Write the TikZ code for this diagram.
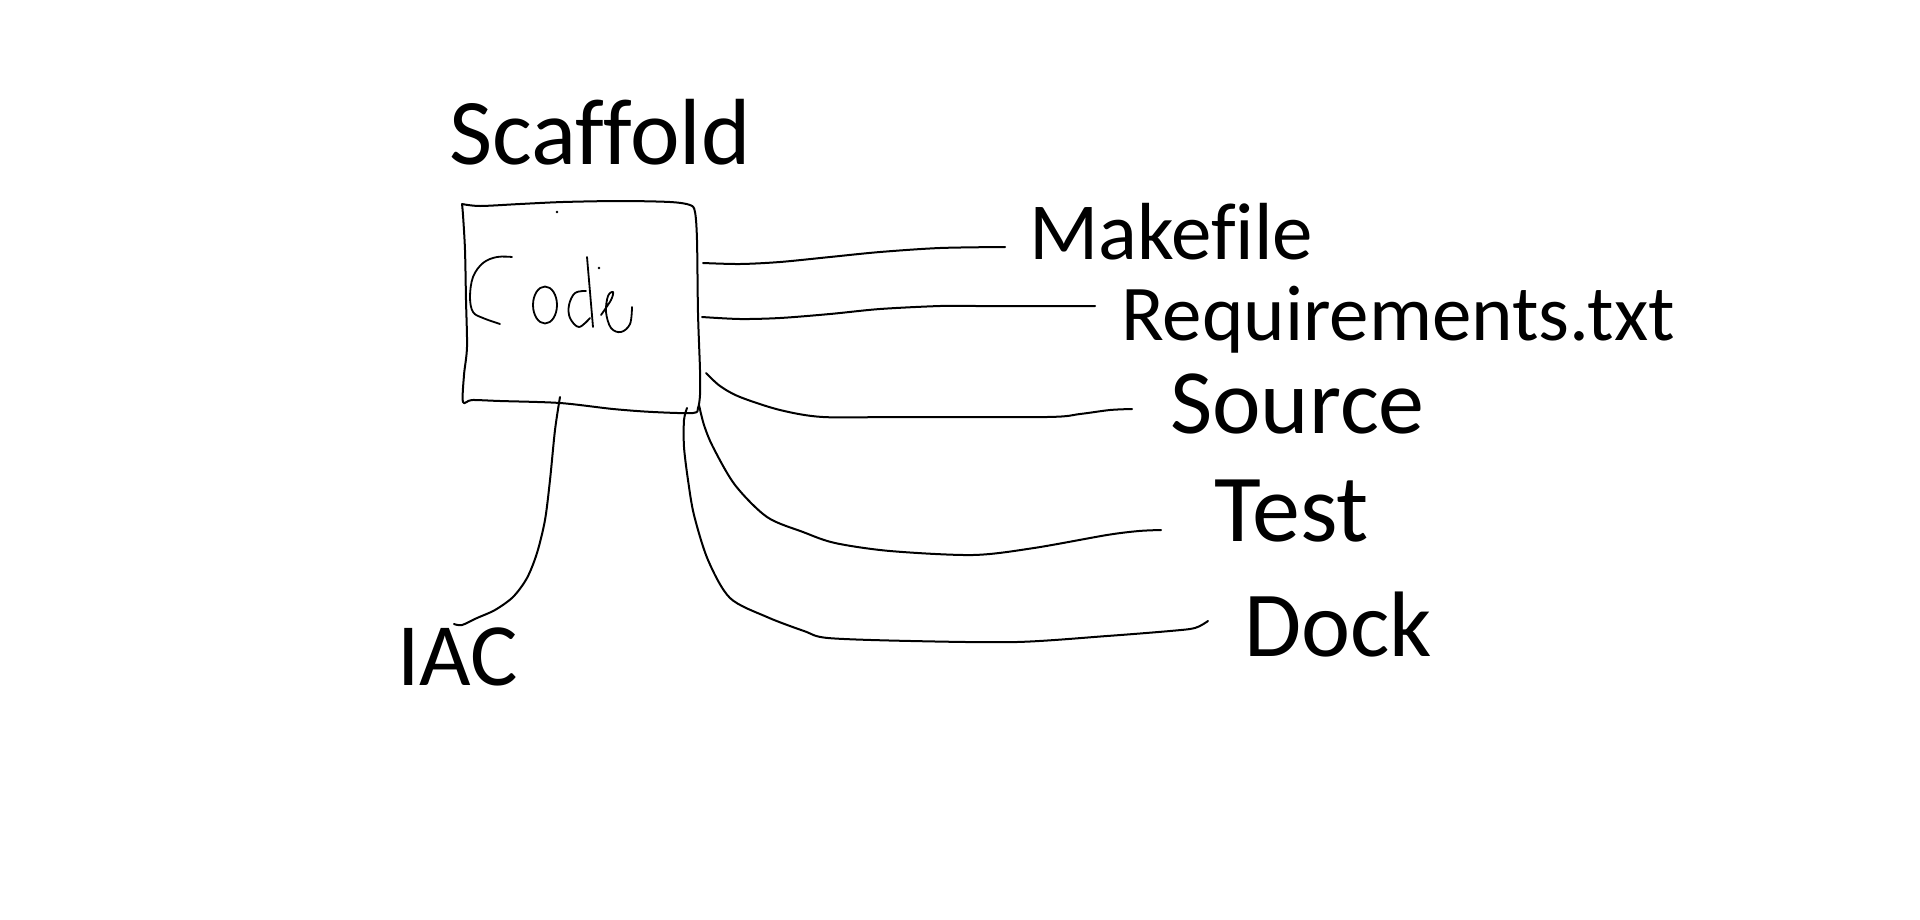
\documentclass[tikz,border=0pt]{standalone}
\usepackage{fontspec}
\setmainfont{Carlito}[Ligatures=NoCommon]
\begin{document}
\begin{tikzpicture}[x=1pt,y=-1pt,
  ink/.style={line width=2pt, line cap=round, line join=round},
  thin ink/.style={line width=1.8pt, line cap=round, line join=round},
  lbl/.style={inner sep=0pt, anchor=base west}]
\useasboundingbox[fill=white] (0,0) rectangle (1920,919);

% labels
\node[lbl, font=\fontsize{94}{94}\selectfont] (scaffold) at (449,164) {Scaffold};
\node[lbl, font=\fontsize{81}{81}\selectfont] (makefile) at (1029,259) {Makefile};
\node[lbl, font=\fontsize{79}{79}\selectfont] (req) at (1121,340) {Requirements.txt};
\node[lbl, font=\fontsize{92}{92}\selectfont] (source) at (1170,433) {Source};
\node[lbl, font=\fontsize{96}{96}\selectfont] (test) at (1214,541) {Test};
\node[lbl, font=\fontsize{93}{93}\selectfont] (dock) at (1244,656) {Dock};
\node[lbl, font=\fontsize{89}{89}\selectfont] (iac) at (397,685) {IAC};

% box
\draw[ink] plot[smooth, tension=0.5] coordinates {
  (462,204) (480,206) (520,204) (563,202) (620,201) (670,202) (690,205) (695,212)
  (697,240) (698,313) (700,370) (700,395) (698,408) (693,413)
  (653,412) (613,409) (560,403) (500,401) (472,400) (463,402)
  (464,375) (467,347) (466,300) (465,250) (463,215) (462,204)};
\coordinate (boxR1) at (703,263);
\coordinate (boxR2) at (702,317);
\coordinate (boxR3) at (706,373);
\coordinate (boxR4) at (699,405);
\coordinate (boxB1) at (687,408);
\coordinate (boxB2) at (560,397);

% handwritten "Code"
\draw[thin ink] plot[smooth, tension=0.6] coordinates {
  (512,257) (497,257) (483,263) (473,277) (470,297) (473,312) (483,318) (500,324)};
\draw[thin ink] (545,305) ellipse [x radius=12, y radius=18.5];
\draw[thin ink] (587,257) -- (593,327);
\draw[thin ink] plot[smooth, tension=0.6] coordinates {
  (586,291) (575,293) (569,305) (570,318) (579,327) (590,318)};
\draw[thin ink] plot[smooth, tension=0.6] coordinates {
  (601,315) (611,300) (613,292) (608,296) (606,312) (611,328) (621,332) (630,324) (632,307)};
\fill (557,212) circle (1.3);
\fill (599,268) circle (1.3);

% connectors
\coordinate (mkE) at (1005,247);
\coordinate (rqE) at (1095,306);
\coordinate (srE) at (1132,409);
\coordinate (tsE) at (1161,530);
\coordinate (dkE) at (1208,621);
\coordinate (iaE) at (454,624);

\draw[ink] plot[smooth, tension=0.5] coordinates {
  (boxR1) (740,264) (780,262) (830,257) (880,252) (940,248) (mkE)};
\draw[ink] plot[smooth, tension=0.5] coordinates {
  (boxR2) (740,319) (780,318) (830,314) (880,309) (940,306) (980,306) (rqE)};
\draw[ink] plot[smooth, tension=0.5] coordinates {
  (boxR3) (720,386) (740,397) (780,410) (823,417) (900,417) (1047,417) (1080,414) (1110,410) (srE)};
\draw[ink] plot[smooth, tension=0.5] coordinates {
  (boxR4) (704,425) (713,447) (735,485) (767,517) (803,532) (835,543) (890,551) (973,555) (1034,548) (1107,535) (1139,531) (tsE)};
\draw[ink] plot[smooth, tension=0.5] coordinates {
  (boxB1) (684,420) (684,447) (688,480) (694,515) (708,560) (730,598) (767,617) (804,631) (828,638) (911,641) (1017,642) (1107,636) (1170,631) (1195,628) (dkE)};
\draw[ink] plot[smooth, tension=0.5] coordinates {
  (boxB2) (555,430) (550,480) (545,520) (537,553) (527,578) (513,597) (495,610) (477,618) (462,625) (iaE)};
\end{tikzpicture}
\end{document}
